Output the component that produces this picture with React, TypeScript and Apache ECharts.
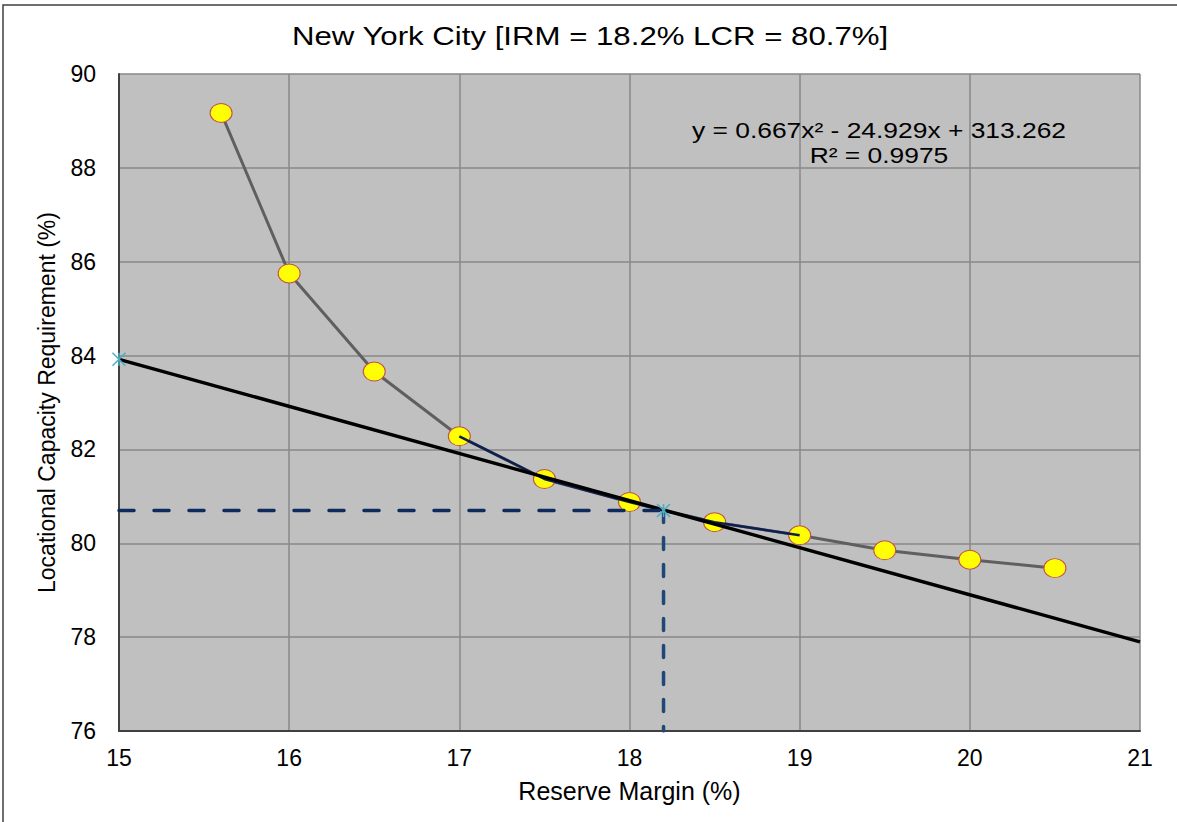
import React, { useEffect, useRef } from "react";
import * as echarts from "echarts";

const reserveMargin = [15.6, 16, 16.5, 17, 17.5, 18, 18.5, 19, 19.5, 20, 20.5];
const lcrValues = [89.17, 85.75, 83.66, 82.28, 81.37, 80.88, 80.45, 80.17, 79.85, 79.65, 79.47];

const fitX = [17, 17.5, 18, 18.2, 18.5, 19];
const fitY = [82.28, 81.37, 80.88, 80.7, 80.45, 80.17];

const tangentX = [15, 21];
const tangentY = [83.92, 77.9];

const markerX = [15, 18.2];
const markerY = [83.92, 80.7];

const irm = 18.2;
const lcr = 80.7;
const xMin = 15;
const xMax = 21;
const yMin = 76;
const yMax = 90;

const titleText = "New York City [IRM = 18.2% LCR = 80.7%]";
const equationText = "y = 0.667x² - 24.929x + 313.262";
const r2Text = "R² = 0.9975";
const xName = "Reserve Margin (%)";
const yName = "Locational Capacity Requirement (%)";

const FONT = "'Liberation Sans', Arial, sans-serif";

export default function App() {
  const ref = useRef<HTMLDivElement>(null);
  useEffect(() => {
    if (!ref.current) return;
    const chart = echarts.init(ref.current, null, { renderer: "svg" });
    const pairs = (xs: number[], ys: number[]) => xs.map((x, i) => [x, ys[i]]);
    const text = (t: string, x: number, y: number, size: number, sx: number) => ({
      type: "text",
      x,
      y,
      scaleX: sx,
      z: 10,
      silent: true,
      style: {
        text: t,
        x: 0,
        y: 0,
        font: `${size}px ${FONT}`,
        fill: "#000",
        align: "center",
        verticalAlign: "middle",
      },
    });
    const option: any = {
      animation: false,
      backgroundColor: "#ffffff",
      textStyle: { fontFamily: FONT },
      grid: {
        left: 119,
        top: 74,
        right: 37,
        bottom: 91,
        show: true,
        backgroundColor: "#C0C0C0",
        borderWidth: 0,
      },
      xAxis: {
        type: "value",
        min: xMin,
        max: xMax,
        interval: 1,
        name: xName,
        nameLocation: "middle",
        nameGap: 47,
        nameTextStyle: { fontFamily: FONT, fontSize: 25, color: "#000" },
        axisLine: { show: true, lineStyle: { color: "#404040", width: 2 } },
        axisTick: { show: false },
        axisLabel: { fontFamily: FONT, fontSize: 23, color: "#000", margin: 15 },
        splitLine: { show: true, lineStyle: { color: "#888888", width: 1.5 } },
      },
      yAxis: {
        type: "value",
        min: yMin,
        max: yMax,
        interval: 2,
        name: yName,
        nameLocation: "middle",
        nameGap: 61,
        nameTextStyle: { fontFamily: FONT, fontSize: 23, color: "#000" },
        axisLine: { show: true, lineStyle: { color: "#404040", width: 2 } },
        axisTick: { show: false },
        axisLabel: { fontFamily: FONT, fontSize: 23, color: "#000", margin: 23 },
        splitLine: { show: true, lineStyle: { color: "#888888", width: 1.5 } },
      },
      graphic: [
        {
          type: "rect",
          shape: { x: 3, y: 5, width: 1190, height: 840 },
          style: { fill: "none", stroke: "#404040", lineWidth: 1.5 },
          silent: true,
        },
        text(titleText, 590, 36, 26, 1.2),
        text(equationText, 879, 130, 22, 1.2),
        text(r2Text, 879, 155, 22, 1.2),
      ],
      series: [
        {
          type: "line",
          name: "LCR",
          z: 2,
          data: pairs(reserveMargin, lcrValues),
          lineStyle: { color: "#5F5F5F", width: 3 },
          symbol: "path://M0,9.5A11,9.5 0 1 1 22,9.5A11,9.5 0 1 1 0,9.5Z",
          symbolSize: [22, 19],
          itemStyle: { color: "#FFFF00", borderColor: "#C0504D", borderWidth: 1 },
        },
        {
          type: "line",
          name: "Fit",
          z: 3,
          data: pairs(fitX, fitY),
          showSymbol: false,
          symbol: "none",
          lineStyle: { color: "#0D1F4F", width: 2.5 },
        },
        {
          type: "line",
          name: "Tangent",
          z: 4,
          data: pairs(tangentX, tangentY),
          symbol: "none",
          lineStyle: { color: "#000000", width: 3.5 },
        },
        {
          type: "line",
          name: "LCR dashed",
          z: 4,
          data: [
            [xMin, lcr],
            [irm, lcr],
          ],
          symbol: "none",
          lineStyle: { color: "#0F2A5C", width: 3.5, type: [15, 20], cap: "round" },
        },
        {
          type: "line",
          name: "IRM dashed",
          z: 4,
          data: [
            [irm, lcr],
            [irm, yMin],
          ],
          symbol: "none",
          lineStyle: { color: "#1F4878", width: 3.5, type: [12, 15], cap: "round" },
        },
        {
          type: "scatter",
          name: "Points",
          z: 5,
          data: pairs(markerX, markerY),
          symbol: "path://M0,0L10,10M10,0L0,10M5,0L5,10",
          symbolSize: 13,
          itemStyle: { color: "transparent", borderColor: "#4BACC6", borderWidth: 1.5, opacity: 1 },
        },
      ],
    };
    chart.setOption(option);
    return () => chart.dispose();
  }, []);
  return (
    <div
      ref={ref}
      style={{ position: "absolute", left: 0, top: 0, width: 1177, height: 822 }}
    />
  );
}
